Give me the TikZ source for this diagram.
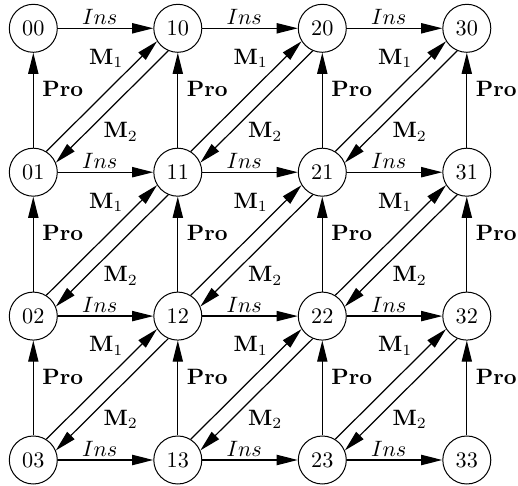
\documentclass[tikz,border=0pt]{standalone}
\usetikzlibrary{arrows.meta,calc}
\begin{document}
\begin{tikzpicture}[x=0.45pt,y=0.45pt,
  state/.style={circle,draw,line width=0.45pt,minimum size=21.6pt,inner sep=0pt},
  arr/.style={line width=0.55pt,-{Triangle[length=9.5pt,width=4.6pt]}},
  lbl/.style={inner sep=0pt}]
\useasboundingbox (0,0) rectangle (518,-486);
\foreach \i in {0,...,3}{\foreach \j in {0,...,3}{
  \node[state] (n\i\j) at ({33.3+144.5*\i},{-28.3-143.9*\j}) {\i\j};
}}
% Ins (horizontal)
\foreach \i [evaluate=\i as \k using int(\i+1)] in {0,1,2}{\foreach \j in {0,...,3}{
  \draw[arr] (n\i\j) -- (n\k\j) node[lbl,midway,shift={(-5.8,11)}] {$Ins$};
}}
% Pro (vertical)
\foreach \i in {0,...,3}{\foreach \j [evaluate=\j as \m using int(\j+1)] in {0,1,2}{
  \draw[arr] (n\i\m) -- (n\i\j) node[lbl,midway,shift={(29.5,11)}] {$\mathbf{Pro}$};
}}
% M1 and M2 (diagonals)
\foreach \i [evaluate=\i as \k using int(\i+1)] in {0,1,2}{\foreach \j [evaluate=\j as \m using int(\j+1)] in {0,1,2}{
  \draw[arr] (n\i\m.58) -- (n\k\j.212) node[lbl,midway,shift={(4.6,38.2)}] {$\mathbf{M}_1$};
  \draw[arr] (n\k\j.247) -- (n\i\m.23) node[lbl,midway,shift={(8.6,-25.1)}] {$\mathbf{M}_2$};
}}
\end{tikzpicture}
\end{document}
